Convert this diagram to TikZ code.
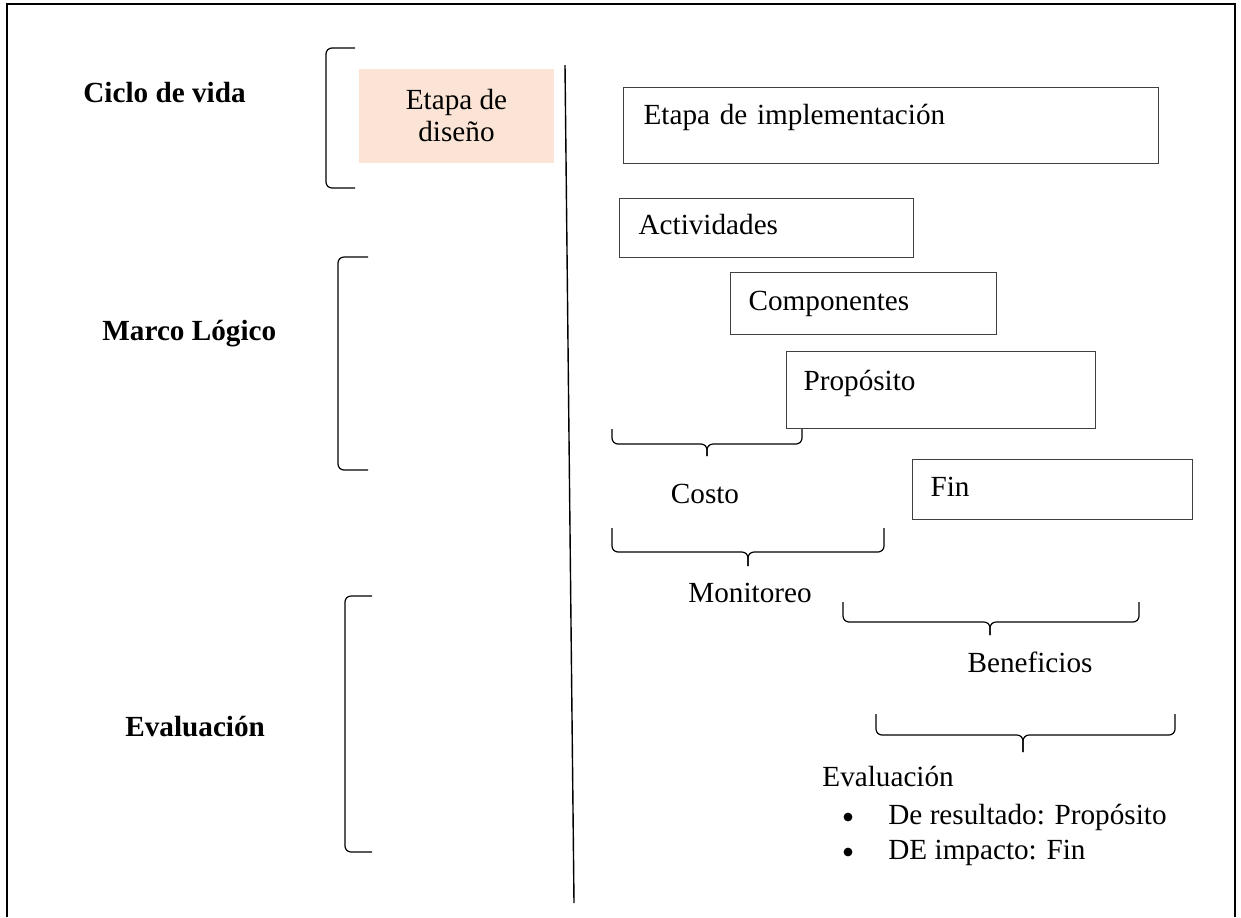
\documentclass[tikz,border=0pt]{standalone}
\usepackage{fontspec}
\setmainfont{Liberation Serif}
\usetikzlibrary{positioning}
\definecolor{peach}{RGB}{251,228,213}

% curly brace in the style of the original, tip pointing down
\newcommand{\wbrace}[6]{%
  \draw[brc] (#1,#4) -- (#1,#5) -- (#2,#5) -- (#2,#6);
  \draw[brc] (#3,#4) -- (#3,#5) -- (#2,#5) -- (#2,#6);
}

\begin{document}
\begin{tikzpicture}[
x=0.5pt, y=-0.5pt,
font=\fontsize{14.6pt}{17.5pt}\selectfont,
box/.style={draw=black!75, line width=0.6pt, anchor=north west, align=left, text height=10pt, text depth=3.2pt, inner ysep=0pt},
title/.style={font=\fontsize{14.6pt}{17.5pt}\selectfont\bfseries, anchor=base west, inner sep=0pt},
lbl/.style={anchor=base, inner sep=0pt},
dot/.style={circle, fill, inner sep=0pt, minimum size=4.4pt},
brk/.style={line width=0.6pt, rounded corners=3pt},
brc/.style={line width=0.6pt, rounded corners=3pt}
]

    \useasboundingbox (0,0) rectangle (1241,917);
    \draw[line width=1.3pt] (7,917) -- (7,4) -- (1235,4) -- (1235,917);

    % left column
    \node[title] (ciclo) at (83,102) {Ciclo de vida};
    \node[title] (marco) at (102,340) {Marco Lógico};
    \node[title] (evalu) at (125,736) {Evaluación};

    \draw[brk] (355,48) -- (326,48) -- (326,188) -- (355,188);
    \draw[brk] (368,257) -- (338,257) -- (338,470) -- (368,470);
    \draw[brk] (372,596) -- (345,596) -- (345,852) -- (372,852);

    \node[fill=peach, minimum width=97.5pt, minimum height=47pt, align=center,
          font=\fontsize{14.6pt}{16pt}\selectfont] (diseno) at (456.5,116) {Etapa de\\diseño};

    \draw[line width=0.7pt] (565,65) -- (574,903);

    % boxes
    \node[box, inner xsep=10pt, text width=247.5pt, minimum height=38pt, text depth=11.2pt] (impl) at (623,87) {Etapa de implementación};
    \node[box, inner xsep=9.5pt, text width=128pt, minimum height=29.5pt] (activ) at (619,198) {Actividades};
    \node[box, inner xsep=9pt, text width=115pt, minimum height=31pt] (comp) at (730,272) {Componentes};
    \node[box, inner xsep=8.5pt, text width=137.5pt, minimum height=38.5pt, text depth=9.2pt] (prop) at (786,351) {Propósito};
    \node[box, inner xsep=9pt, text width=122pt, minimum height=30pt] (fin) at (912,459) {Fin};

    % braces
    \wbrace{612}{707}{802}{429}{444}{456}
    \node[lbl] (costo) at (705,503) {Costo};
    \wbrace{612}{748}{884}{528}{552}{566}
    \node[lbl] (monit) at (750,602) {Monitoreo};
    \wbrace{843}{990}{1139}{602}{622}{635}
    \node[lbl] (benef) at (1030,672) {Beneficios};
    \wbrace{876}{1023}{1175}{714}{735}{752}

    % list
    \node[anchor=base west, inner sep=0pt] (evalf) at (822,786) {Evaluación};
    \node[dot] (bul1) at (848,817) {};
    \node[anchor=base west, inner sep=0pt] (res) at (888,824) {De resultado: Propósito};
    \node[dot] (bul2) at (848,852) {};
    \node[anchor=base west, inner sep=0pt] (imp) at (888,859) {DE impacto: Fin};

\end{tikzpicture}
\end{document}
